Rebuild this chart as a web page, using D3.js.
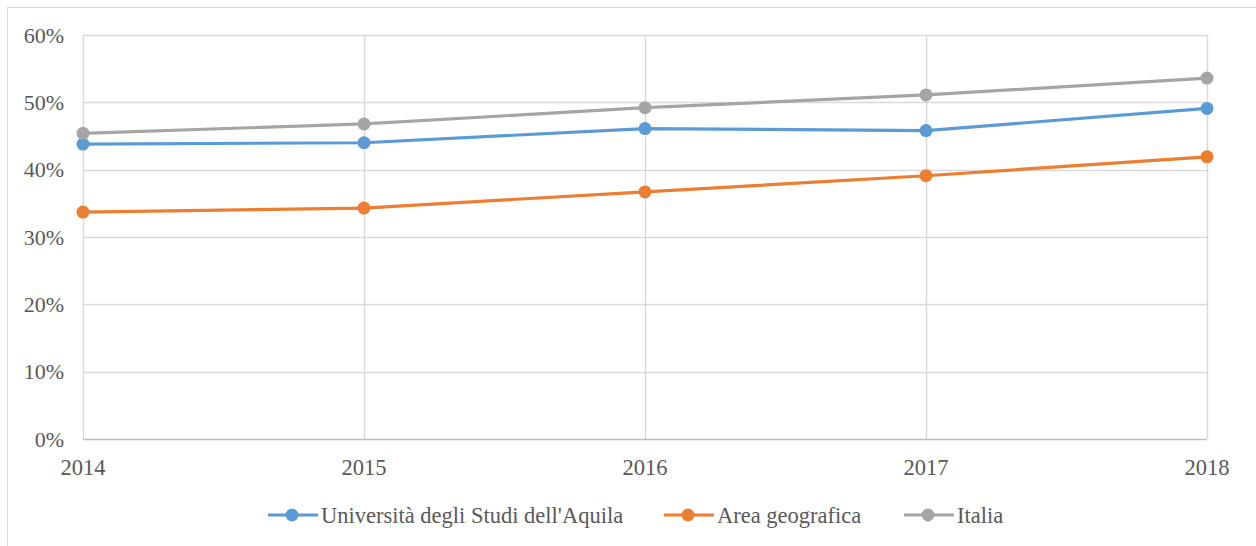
<!DOCTYPE html>
<html>
<head>
<meta charset="utf-8">
<script src="https://cdn.jsdelivr.net/npm/d3@7"></script>
<style>
  body { margin: 0; background: #fff; }
</style>
</head>
<body>
<div id="chart"></div>
<script>
const years = [2014, 2015, 2016, 2017, 2018];
const univAquila = [0.438, 0.440, 0.461, 0.458, 0.491];
const areaGeo = [0.337, 0.343, 0.367, 0.391, 0.419];
const italia = [0.454, 0.468, 0.492, 0.511, 0.536];
const yTicks = [0, 0.1, 0.2, 0.3, 0.4, 0.5, 0.6];

const seriesNames = ["Università degli Studi dell'Aquila", "Area geografica", "Italia"];
const seriesColors = ["#5B9BD5", "#ED7D31", "#A5A5A5"];
const seriesValues = [univAquila, areaGeo, italia];

const width = 1256, height = 546;
const margin = {top: 35, right: 49, bottom: 107, left: 83};
const font = "'Liberation Serif', 'Times New Roman', Times, serif";

const svg = d3.select("#chart").append("svg")
    .attr("width", width)
    .attr("height", height)
    .style("font-family", font);

// outer frame
svg.append("rect")
    .attr("x", 7.5).attr("y", 7.5)
    .attr("width", width + 10).attr("height", height + 10)
    .attr("fill", "none")
    .attr("stroke", "#D9D9D9")
    .attr("stroke-width", 1);

let x = d3.scalePoint()
    .domain(years)
    .range([margin.left, width - margin.right]);

let y = d3.scaleLinear()
    .domain([0, 0.6])
    .range([height - margin.bottom, margin.top]);

// horizontal grid
svg.append("g")
    .selectAll("line")
    .data(yTicks.slice(1))
    .enter()
    .append("line")
        .attr("x1", margin.left).attr("x2", width - margin.right)
        .attr("y1", d => Math.round(y(d)) + 0.5)
        .attr("y2", d => Math.round(y(d)) + 0.5)
        .attr("stroke", "#D9D9D9")
        .attr("stroke-width", 1.5);

// vertical grid
svg.append("g")
    .selectAll("line")
    .data(years)
    .enter()
    .append("line")
        .attr("x1", d => Math.round(x(d)) + 0.5)
        .attr("x2", d => Math.round(x(d)) + 0.5)
        .attr("y1", margin.top).attr("y2", height - margin.bottom)
        .attr("stroke", "#D9D9D9")
        .attr("stroke-width", 1.5);

// x axis baseline
svg.append("line")
    .attr("x1", margin.left).attr("x2", width - margin.right)
    .attr("y1", Math.round(y(0)) + 0.5).attr("y2", Math.round(y(0)) + 0.5)
    .attr("stroke", "#BFBFBF")
    .attr("stroke-width", 1.5);

// y labels
svg.append("g")
    .selectAll("text")
    .data(yTicks)
    .enter()
    .append("text")
        .attr("x", 64)
        .attr("y", d => y(d))
        .attr("dy", "0.35em")
        .attr("text-anchor", "end")
        .attr("fill", "#595959")
        .style("font-size", "22px")
        .text(d3.format(".0%"));

// x labels
svg.append("g")
    .selectAll("text")
    .data(years)
    .enter()
    .append("text")
        .attr("x", d => x(d))
        .attr("y", 467)
        .attr("dy", "0.35em")
        .attr("text-anchor", "middle")
        .attr("fill", "#595959")
        .style("font-size", "22.5px")
        .text(d => d);

// lines and markers
let line = d3.line()
    .x((d, i) => x(years[i]))
    .y(d => y(d));

seriesValues.forEach((vals, s) => {
    svg.append("path")
        .datum(vals)
        .attr("fill", "none")
        .attr("stroke", seriesColors[s])
        .attr("stroke-width", 3.2)
        .attr("stroke-linejoin", "round")
        .attr("d", line);

    svg.append("g")
        .selectAll("circle")
        .data(vals)
        .enter()
        .append("circle")
            .attr("cx", (d, i) => x(years[i]))
            .attr("cy", d => y(d))
            .attr("r", 6.5)
            .attr("fill", seriesColors[s]);
});

// legend
const legendX = [268, 664, 904];
let legend = svg.append("g")
    .selectAll("g")
    .data(seriesNames)
    .enter()
    .append("g")
        .attr("transform", (d, i) => "translate(" + legendX[i] + ",515)");

legend.append("line")
    .attr("x1", 0).attr("x2", 50)
    .attr("stroke", (d, i) => seriesColors[i])
    .attr("stroke-width", 3.2);

legend.append("circle")
    .attr("cx", 24).attr("r", 6.5)
    .attr("fill", (d, i) => seriesColors[i]);

legend.append("text")
    .attr("x", 53)
    .attr("dy", "0.35em")
    .attr("fill", "#595959")
    .style("font-size", "22.5px")
    .text(d => d);
</script>
</body>
</html>
